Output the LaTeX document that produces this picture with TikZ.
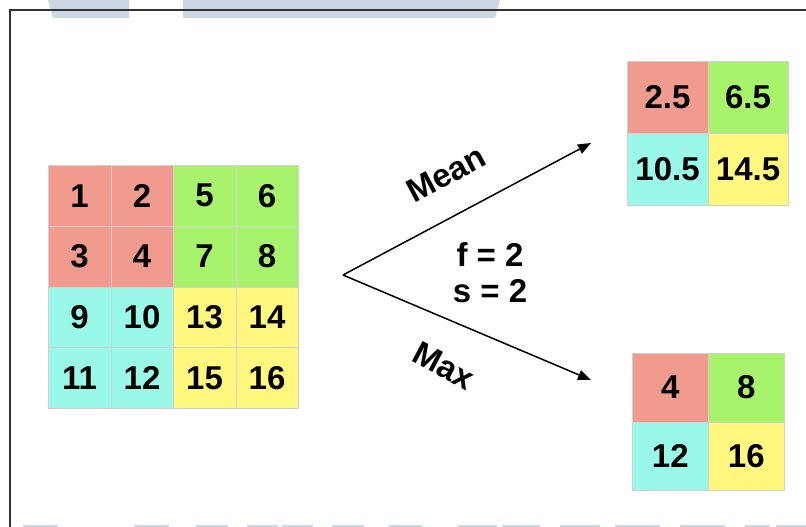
\documentclass[tikz,border=0pt]{standalone}
\usepackage{fontspec}
\setmainfont{Liberation Sans}
\usepackage{tikz}
\usetikzlibrary{arrows.meta, positioning}
\usepackage{xcolor}
\definecolor{pRed}{HTML}{F19B8F}
\definecolor{pGreen}{HTML}{A7F46C}
\definecolor{pCyan}{HTML}{9AF8E8}
\definecolor{pYellow}{HTML}{FFF77E}
\definecolor{pBar}{HTML}{CBD8E3}
\definecolor{pFrame}{HTML}{333333}
\newcommand{\bigbf}{\bfseries\fontsize{33}{36}\selectfont}

\begin{document}
\begin{tikzpicture}[x=1pt, y=-1pt,
  cell/.style={fill=#1, draw=black!18, line width=0.6pt, anchor=north west,
               inner sep=0pt, font=\bigbf},
  incell/.style={cell=#1, minimum width=62.5pt, minimum height=60.75pt},
  meancell/.style={cell=#1, minimum width=80.5pt, minimum height=72pt},
  maxcell/.style={cell=#1, minimum width=76pt, minimum height=68.5pt},
  lab/.style={font=\bigbf, inner sep=0pt},
  arr/.style={-{Triangle[length=13pt, width=10pt]}, line width=1.5pt, black}]
  \useasboundingbox (0,0) rectangle (806,527);
  % screenshot frame and bars
  \fill[pBar] (48,0) -- (129,0) -- (129,18) -- (53,18) -- cycle;
  \fill[pBar] (183,0) -- (500,0) -- (495,18) -- (183,18) -- cycle;
  \foreach \a/\b in {23/58, 134/169, 196/228, 247/278, 282/313, 332/364, 389/422, 458/497, 502/540, 560/600, 615/660, 680/725, 745/770, 776/806}
    \fill[pBar] (\a,525) rectangle (\b,527);
  \draw[pFrame, line width=1.2pt] (10,527) -- (10,10) -- (806,10);
  % input 4x4
  \foreach \v/\c [count=\i from 0] in {1/pRed, 2/pRed, 5/pGreen, 6/pGreen,
      3/pRed, 4/pRed, 7/pGreen, 8/pGreen, 9/pCyan, 10/pCyan, 13/pYellow, 14/pYellow,
      11/pCyan, 12/pCyan, 15/pYellow, 16/pYellow} {
    \pgfmathtruncatemacro\col{mod(\i,4)}
    \pgfmathtruncatemacro\row{div(\i,4)}
    \node[incell=\c] (in-\v) at ({48+62.5*\col}, {165+60.75*\row}) {\v};
  }
  % mean pooling output
  \foreach \v/\c [count=\i from 0] in {2.5/pRed, 6.5/pGreen, 10.5/pCyan, 14.5/pYellow} {
    \pgfmathtruncatemacro\col{mod(\i,2)}
    \pgfmathtruncatemacro\row{div(\i,2)}
    \node[meancell=\c] (mean-\i) at ({627+80.5*\col}, {61+72*\row}) {\v};
  }
  % max pooling output
  \foreach \v/\c [count=\i from 0] in {4/pRed, 8/pGreen, 12/pCyan, 16/pYellow} {
    \pgfmathtruncatemacro\col{mod(\i,2)}
    \pgfmathtruncatemacro\row{div(\i,2)}
    \node[maxcell=\c] (max-\i) at ({632+76*\col}, {353+68.5*\row}) {\v};
  }
  % arrows
  \coordinate (fork) at (343,275);
  \coordinate (to-mean) at (591,143);
  \coordinate (to-max) at (591,380);
  \draw[arr] (fork) -- (to-mean);
  \draw[arr] (fork) -- (to-max);
  \node[lab, rotate=28] (mean-lab) at (446,174) {Mean};
  \node[lab, rotate=-28] (max-lab) at (444,366) {Max};
  \node[lab, align=center] (params) at (490,273) {f = 2\\ s = 2};
\end{tikzpicture}
\end{document}
